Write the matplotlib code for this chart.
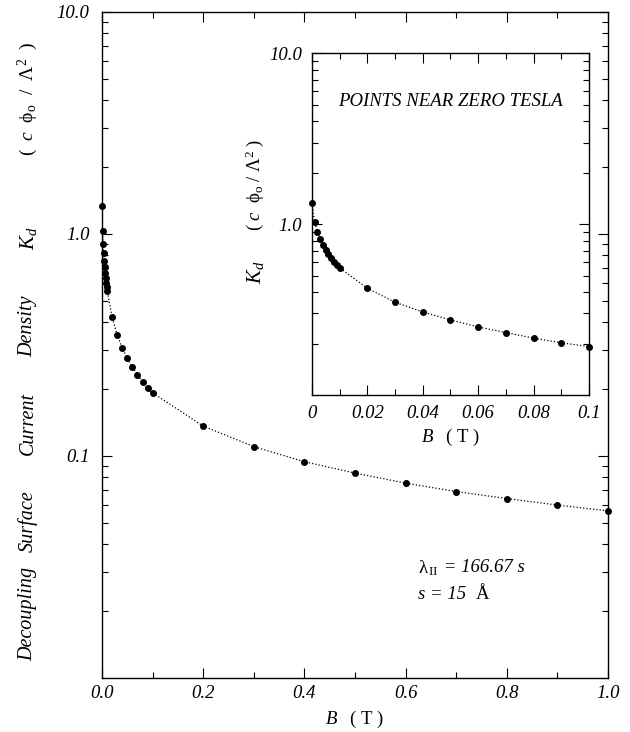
import matplotlib
matplotlib.use("Agg")
import matplotlib.pyplot as plt
from matplotlib.ticker import FixedLocator, FixedFormatter, MultipleLocator, LogLocator, NullFormatter

# ---- data ----
B_field = [0.0, 0.001, 0.002, 0.003, 0.004, 0.005, 0.006, 0.007, 0.008, 0.009, 0.010,
           0.02, 0.03, 0.04, 0.05, 0.06, 0.07, 0.08, 0.09, 0.1,
           0.2, 0.3, 0.4, 0.5, 0.6, 0.7, 0.8, 0.9, 1.0]
K_d = [1.33, 1.03, 0.90, 0.82, 0.757, 0.707, 0.668, 0.633, 0.602, 0.576, 0.555,
       0.421, 0.349, 0.306, 0.275, 0.250, 0.232, 0.215, 0.202, 0.192,
       0.136, 0.110, 0.094, 0.0836, 0.0753, 0.069, 0.0642, 0.060, 0.0565]
inset_max_B = 0.1

main_xticks = [0.0, 0.2, 0.4, 0.6, 0.8, 1.0]
main_xticklabels = ["0.0", "0.2", "0.4", "0.6", "0.8", "1.0"]
main_yticks = [0.1, 1.0, 10.0]
main_yticklabels = ["0.1", "1.0", "10.0"]
inset_xticks = [0.0, 0.02, 0.04, 0.06, 0.08, 0.1]
inset_xticklabels = ["0", "0.02", "0.04", "0.06", "0.08", "0.1"]
inset_yticks = [1.0, 10.0]
inset_yticklabels = ["1.0", "10.0"]
ylabel_words = ["Decoupling", "Surface", "Current", "Density"]

plt.rcParams['font.family'] = ['Liberation Serif', 'DejaVu Serif']
plt.rcParams['mathtext.fontset'] = 'custom'
plt.rcParams['mathtext.rm'] = 'Liberation Serif'
plt.rcParams['mathtext.it'] = 'Liberation Serif:italic'
plt.rcParams['mathtext.bf'] = 'Liberation Serif:bold'

FS = 13.5
UNITS = r'$(\ \ c\ \ \mathrm{\phi_o}\ \ /\ \ \mathrm{\Lambda}^2\ \ )$'
UNITS_INSET = r'$(\ c\ \ \mathrm{\phi_o}\ /\ \mathrm{\Lambda}^2\ )$'

fig = plt.figure(figsize=(6.30, 7.32), dpi=100)
ax = fig.add_axes([0.162, 0.074, 0.803, 0.910])


def style_axes(a, xlim, ylim, xticks, xlabels, xminor, yticks, ylabels):
    a.set_yscale('log')
    a.set_xlim(*xlim)
    a.set_ylim(*ylim)
    a.xaxis.set_major_locator(FixedLocator(xticks))
    a.xaxis.set_major_formatter(FixedFormatter(xlabels))
    a.xaxis.set_minor_locator(MultipleLocator(xminor))
    a.yaxis.set_major_locator(FixedLocator(yticks))
    a.yaxis.set_major_formatter(FixedFormatter(ylabels))
    a.yaxis.set_minor_locator(LogLocator(base=10, subs=range(2, 10)))
    a.yaxis.set_minor_formatter(NullFormatter())
    a.tick_params(which='both', direction='in', top=True, right=True, width=0.8)
    a.tick_params(which='major', length=7)
    a.tick_params(which='minor', length=4)
    for lab in a.get_xticklabels() + a.get_yticklabels():
        lab.set_fontstyle('italic')
        lab.set_fontsize(FS)
    for s in a.spines.values():
        s.set_linewidth(1.0)


# main plot
ax.plot(B_field, K_d, linestyle=':', color='black', linewidth=0.9)
ax.plot(B_field, K_d, linestyle='none', marker='o', color='black', markersize=4, clip_on=False)
style_axes(ax, (0, 1.0), (0.01, 10.0), main_xticks, main_xticklabels, 0.1,
           main_yticks, main_yticklabels)
ax.tick_params(axis='x', pad=5)
ax.tick_params(axis='y', pad=9)
ax.set_xlabel(r'$B\quad(\ \mathrm{T}\ )$', fontsize=FS, labelpad=5)

# y label words along left side
word_y = [0.096, 0.235, 0.382, 0.528]
for w, yy in zip(ylabel_words, word_y):
    ax.text(-0.146, yy, w, transform=ax.transAxes, rotation=90, ha='center', va='center',
            fontsize=14.5, fontstyle='italic')
ax.text(-0.146, 0.66, r'$K_d$', transform=ax.transAxes, rotation=90, ha='center', va='center',
        fontsize=15)
ax.text(-0.146, 0.87, UNITS, transform=ax.transAxes,
        rotation=90, ha='center', va='center', fontsize=14)

# annotation
t1 = ax.text(0.625, 0.165, r'$\mathrm{\lambda}_{\,\mathrm{II}}$', transform=ax.transAxes,
             ha='left', va='center', fontsize=FS)
ax.annotate(' = 166.67 s', xy=(1, 0.5), xycoords=t1, ha='left', va='center',
            fontsize=FS, fontstyle='italic')
t2 = ax.text(0.625, 0.125, 's = 15  ', transform=ax.transAxes,
             ha='left', va='center', fontsize=FS, fontstyle='italic')
ax.annotate('\u00c5', xy=(1, 0.5), xycoords=t2, ha='left', va='center', fontsize=FS)

# inset
ins = fig.add_axes([0.495, 0.4604, 0.44, 0.467])
Bi = [b for b in B_field if b <= inset_max_B + 1e-9]
Ki = K_d[:len(Bi)]
ins.plot(Bi, Ki, linestyle=':', color='black', linewidth=0.9)
ins.plot(Bi, Ki, linestyle='none', marker='o', color='black', markersize=4, clip_on=False)
style_axes(ins, (0, 0.1), (0.1, 10.0), inset_xticks, inset_xticklabels, 0.01,
           inset_yticks, inset_yticklabels)
ins.tick_params(axis='x', pad=7)
ins.tick_params(axis='y', pad=7)
ins.set_xlabel(r'$B\quad(\ \mathrm{T}\ )$', fontsize=FS, labelpad=4)
ins.text(-0.205, 0.36, r'$K_d$', transform=ins.transAxes, rotation=90, ha='center', va='center',
         fontsize=15)
ins.text(-0.205, 0.614, UNITS_INSET, transform=ins.transAxes,
         rotation=90, ha='center', va='center', fontsize=13.5)
ins.text(0.5, 0.86, 'POINTS NEAR ZERO TESLA', transform=ins.transAxes, ha='center', va='center',
         fontsize=13.5, fontstyle='italic')

fig.savefig('out.png', dpi=100)
